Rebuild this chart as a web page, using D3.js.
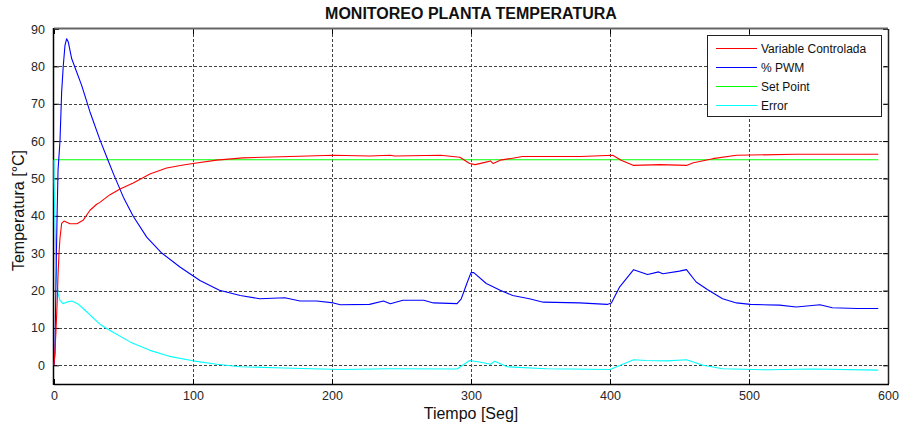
<!DOCTYPE html>
<html>
<head>
<meta charset="utf-8">
<script src="https://cdn.jsdelivr.net/npm/d3@7"></script>
<style>
  html, body { margin: 0; padding: 0; background: #fff; }
  svg { display: block; font-family: Arial, "Liberation Sans", sans-serif; }
</style>
</head>
<body>
<svg id="chart" width="901" height="425"></svg>
<script>
// Time samples [s] and readings for each signal
const tVar = [0, 0.7, 1.4, 2.2, 2.9, 3.6, 4.3, 5.5, 7.2, 11.5, 16.5, 20.9, 25.9, 30.7, 33, 40, 47.5, 57, 69, 81, 93, 100, 117, 136, 170, 201, 227, 242, 245, 278, 292, 299, 303, 310, 314, 316, 321, 328, 337, 379, 402, 408, 417, 436, 455, 460, 474, 491, 534, 563, 593];
const yVar = [0, 4, 9, 16, 24, 30, 34, 38, 38.6, 37.9, 37.9, 38.8, 41.5, 43.1, 43.6, 45.6, 47.2, 48.8, 51.2, 52.8, 53.6, 54.0, 54.9, 55.5, 55.9, 56.2, 56.0, 56.2, 56.0, 56.2, 55.7, 54.0, 53.7, 54.3, 54.7, 54.0, 54.9, 55.3, 55.9, 55.9, 56.2, 54.9, 53.5, 53.7, 53.5, 54.2, 55.3, 56.2, 56.5, 56.5, 56.5];

const tPwm = [0, 0.7, 1.4, 2.2, 2.9, 4.3, 5.5, 6.7, 7.9, 9.1, 10.3, 12.7, 19.9, 25.9, 33, 38, 42.7, 49.9, 57, 66.7, 77, 90.6, 105, 119, 134, 148, 166, 177, 189, 201, 206, 227, 237, 242, 251, 266, 273, 290, 293, 297, 300, 302, 311, 321, 330, 342, 352, 378, 398, 401, 407, 417, 427, 435, 438, 450, 455, 462, 470, 481, 491, 501, 522, 534, 551, 560, 578, 593];
const yPwm = [0, 3.2, 22.7, 39.7, 52.2, 60, 73.1, 80.3, 85.6, 87.4, 86.5, 82.1, 74.9, 67.8, 60.4, 55.7, 51.3, 45.0, 39.9, 34.3, 30.2, 26.3, 22.7, 20.1, 18.7, 17.8, 18.1, 17.2, 17.2, 16.7, 16.2, 16.3, 17.2, 16.5, 17.4, 17.4, 16.7, 16.5, 17.8, 21.9, 24.8, 24.8, 21.9, 20.1, 18.7, 17.8, 16.9, 16.7, 16.3, 16.7, 21.0, 25.6, 24.3, 25.0, 24.5, 25.2, 25.6, 22.3, 20.3, 17.8, 16.7, 16.3, 16.1, 15.6, 16.2, 15.4, 15.2, 15.2];

const setPoint = 55;
const tSet = [0, 593];

const tErr = [0, 0.1, 0.7, 1.4, 2.2, 2.9, 4.3, 6.5, 9, 13, 17, 21.6, 29.5, 33, 40, 55, 69, 83, 100, 117, 134, 165, 206, 242, 290, 299, 306, 314, 317, 326, 354, 400, 417, 426, 441, 455, 467, 481, 513, 546, 593];
const yErr = [55, 48.7, 38, 29, 22.7, 19.2, 17.4, 16.5, 16.9, 17.2, 16.5, 15.0, 12.2, 11.0, 9.4, 6.2, 4.0, 2.4, 1.2, 0.3, -0.4, -0.7, -1.1, -0.9, -1.0, 1.3, 0.9, 0.3, 1.1, -0.4, -0.9, -1.1, 1.5, 1.3, 1.2, 1.5, 0, -0.9, -1.2, -1.0, -1.3];

const xTicks = [0, 100, 200, 300, 400, 500, 600];
const yTicks = [0, 10, 20, 30, 40, 50, 60, 70, 80, 90];

const seriesNames = ["Variable Controlada", "% PWM", "Set Point", "Error"];
const seriesColors = ["#ff0000", "#0000ff", "#00ff00", "#00ffff"];

const svg = d3.select("#chart");
const L = 54, R = 888, T = 29, B = 384;

const x = d3.scaleLinear().domain([0, 600]).range([L, R]);
const y = d3.scaleLinear().domain([-5, 90]).range([B, T]);

// Grid
const grid = svg.append("g").attr("stroke", "#222").attr("stroke-width", 1)
  .attr("stroke-dasharray", "3,2").attr("opacity", 0.85);
grid.selectAll("line.gx").data(xTicks.filter(d => d > 0 && d < 600)).join("line")
  .attr("x1", d => Math.round(x(d)) + 0.5).attr("x2", d => Math.round(x(d)) + 0.5)
  .attr("y1", T).attr("y2", B);
grid.selectAll("line.gy").data(yTicks.filter(d => d < 90)).join("line")
  .attr("y1", d => Math.round(y(d)) + 0.5).attr("y2", d => Math.round(y(d)) + 0.5)
  .attr("x1", L).attr("x2", R);

// Axes (ticks inward, box on)
const tickStyle = g => {
  g.select(".domain").remove();
  g.selectAll("text").attr("fill", "#262626").style("font-size", "12.5px")
    .style("font-family", "Arial, 'Liberation Sans', sans-serif");
  g.selectAll(".tick line").attr("stroke", "#000");
};
svg.append("g").attr("transform", `translate(0,${B})`)
  .call(d3.axisBottom(x).tickValues(xTicks).tickSize(-5).tickPadding(7).tickFormat(d3.format("d")))
  .call(tickStyle);
svg.append("g").attr("transform", `translate(${L},0)`)
  .call(d3.axisLeft(y).tickValues(yTicks).tickSize(-5).tickPadding(9).tickFormat(d3.format("d")))
  .call(tickStyle);
svg.append("g").attr("transform", `translate(0,${T})`)
  .call(d3.axisTop(x).tickValues(xTicks).tickSize(-5).tickFormat(""))
  .call(tickStyle);
svg.append("g").attr("transform", `translate(${R},0)`)
  .call(d3.axisRight(y).tickValues(yTicks).tickSize(-5).tickFormat(""))
  .call(tickStyle);

// Frame
svg.append("line").attr("x1", L).attr("x2", R).attr("y1", T - 0.5).attr("y2", T - 0.5)
  .attr("stroke", "#666").attr("stroke-width", 2);
svg.append("line").attr("x1", R + 0.5).attr("x2", R + 0.5).attr("y1", T).attr("y2", B)
  .attr("stroke", "#222").attr("stroke-width", 1.5);
svg.append("line").attr("x1", L - 0.5).attr("x2", L - 0.5).attr("y1", T - 1).attr("y2", B + 1)
  .attr("stroke", "#000").attr("stroke-width", 1.5);
svg.append("line").attr("x1", L).attr("x2", R + 1).attr("y1", B + 0.5).attr("y2", B + 0.5)
  .attr("stroke", "#000").attr("stroke-width", 1.5);

// Series
const line = d3.line().x(d => x(d[0])).y(d => y(d[1]));
const series = [
  d3.zip(tVar, yVar),
  d3.zip(tPwm, yPwm),
  tSet.map(t => [t, setPoint]),
  d3.zip(tErr, yErr)
];
const plot = svg.append("g");
// draw order: set point, error, pwm, variable on top
[2, 3, 1, 0].forEach(i => {
  plot.append("path").datum(series[i]).attr("d", line)
    .attr("fill", "none").attr("stroke", seriesColors[i]).attr("stroke-width", 1.1)
    .attr("stroke-linejoin", "round");
});

// Legend
const lg = svg.append("g");
lg.append("rect").attr("x", 707.5).attr("y", 35.5).attr("width", 174).attr("height", 81)
  .attr("fill", "#fff").attr("stroke", "#222").attr("stroke-width", 1);
seriesNames.forEach((name, i) => {
  const cy = 48 + i * 19;
  lg.append("line").attr("x1", 716).attr("x2", 757).attr("y1", cy + 0.5).attr("y2", cy + 0.5)
    .attr("stroke", seriesColors[i]).attr("stroke-width", 1);
  lg.append("text").attr("x", 761).attr("y", cy + 4.5).text(name)
    .attr("fill", "#111").style("font-size", "12px");
});

// Title and axis labels
svg.append("text").attr("x", (L + R) / 2).attr("y", 19).attr("text-anchor", "middle")
  .style("font-size", "16px").style("font-weight", "bold").attr("fill", "#111")
  .text("MONITOREO PLANTA TEMPERATURA");
svg.append("text").attr("x", (L + R) / 2).attr("y", 419).attr("text-anchor", "middle")
  .style("font-size", "16px").attr("fill", "#111").text("Tiempo [Seg]");
svg.append("text").attr("transform", `translate(24,${(T + B) / 2 + 4}) rotate(-90)`)
  .attr("text-anchor", "middle").style("font-size", "16px").attr("fill", "#111")
  .text("Temperatura [°C]");
</script>
</body>
</html>
